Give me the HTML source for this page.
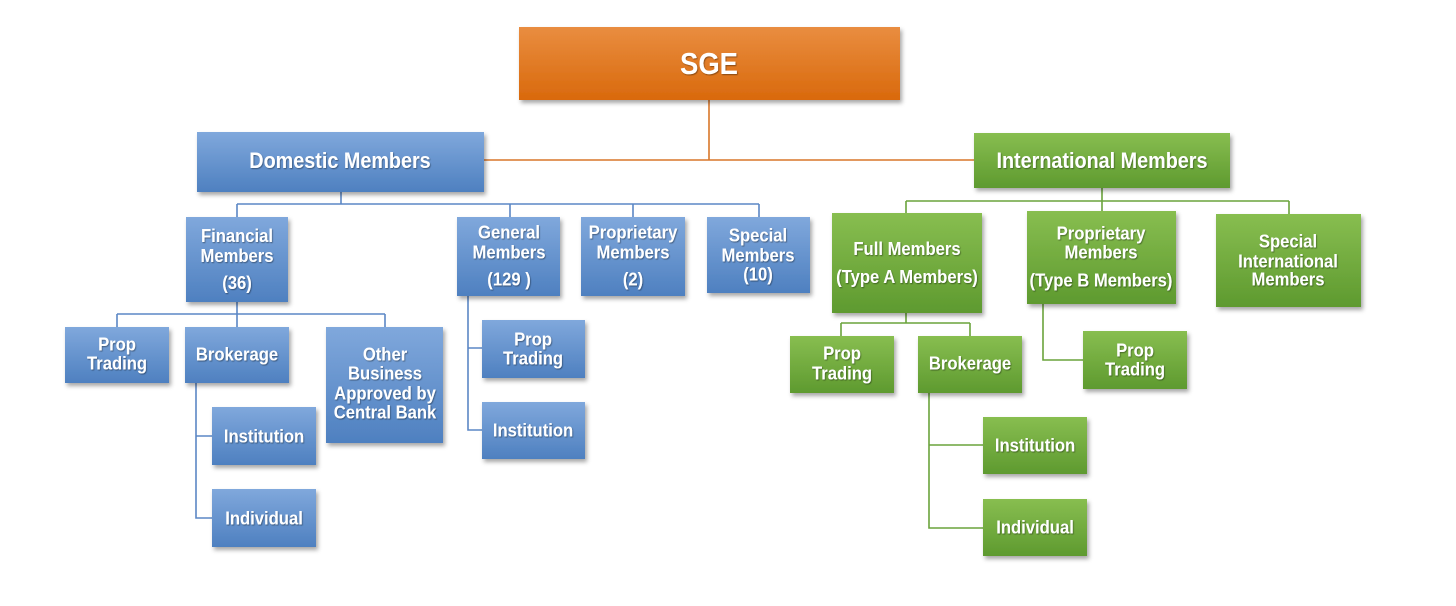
<!DOCTYPE html>
<html><head><meta charset="utf-8"><style>
html,body{margin:0;padding:0;background:#fff;}
svg{display:block;}
text{font-family:"Liberation Sans",Arial,sans-serif;font-weight:bold;fill:#fff;text-anchor:middle;}
</style></head><body>
<svg width="1456" height="606" viewBox="0 0 1456 606" xmlns="http://www.w3.org/2000/svg">
<defs>
<linearGradient id="gO" x1="0" y1="0" x2="0" y2="1"><stop offset="0" stop-color="#e98d40"/><stop offset="1" stop-color="#d9690c"/></linearGradient>
<linearGradient id="gB" x1="0" y1="0" x2="0" y2="1"><stop offset="0" stop-color="#80a8dc"/><stop offset="1" stop-color="#4e80c0"/></linearGradient>
<linearGradient id="gG" x1="0" y1="0" x2="0" y2="1"><stop offset="0" stop-color="#88be50"/><stop offset="1" stop-color="#5e9a2f"/></linearGradient>
<filter id="sh" x="-10%" y="-10%" width="130%" height="140%"><feDropShadow dx="2" dy="3" stdDeviation="2" flood-color="#000" flood-opacity="0.35"/></filter>
<filter id="ts" x="-10%" y="-20%" width="120%" height="150%"><feDropShadow dx="0.8" dy="1" stdDeviation="0.6" flood-color="#000" flood-opacity="0.4"/></filter>
</defs>

<!-- connectors -->
<g fill="none" stroke-width="1.6">
<path stroke="#d9772a" d="M709,100 V160 M484,160 H974"/>
<path stroke="#5b87c5" d="M341,192 V204 M237,204 H759 M237,204 V217 M510,204 V217 M633,204 V217 M759,204 V217
 M237,302 V314 M117,314 H385 M117,314 V327 M237,314 V327 M385,314 V327
 M196,383 V518 H212 M196,436 H212
 M468,296 V430 H482 M468,348 H482"/>
<path stroke="#6aa33c" d="M1102,188 V201 M906,201 H1289 M906,201 V213 M1102,201 V211 M1289,201 V214
 M906,313 V323 M841,323 H970 M841,323 V336 M970,323 V336
 M929,393 V528 H983 M929,445 H983
 M1043,304 V360 H1083"/>
</g>

<!-- boxes -->
<g filter="url(#sh)">
<rect x="519" y="27" width="381" height="73" fill="url(#gO)"/>
<rect x="197" y="132" width="287" height="60" fill="url(#gB)"/>
<rect x="974" y="133" width="256" height="55" fill="url(#gG)"/>

<rect x="186" y="217" width="102" height="85" fill="url(#gB)"/>
<rect x="457" y="217" width="103" height="79" fill="url(#gB)"/>
<rect x="581" y="217" width="104" height="79" fill="url(#gB)"/>
<rect x="707" y="217" width="103" height="76" fill="url(#gB)"/>

<rect x="832" y="213" width="150" height="100" fill="url(#gG)"/>
<rect x="1027" y="211" width="149" height="93" fill="url(#gG)"/>
<rect x="1216" y="214" width="145" height="93" fill="url(#gG)"/>

<rect x="65" y="327" width="104" height="56" fill="url(#gB)"/>
<rect x="185" y="327" width="104" height="56" fill="url(#gB)"/>
<rect x="326" y="327" width="117" height="116" fill="url(#gB)"/>
<rect x="212" y="407" width="104" height="58" fill="url(#gB)"/>
<rect x="212" y="489" width="104" height="58" fill="url(#gB)"/>
<rect x="482" y="320" width="103" height="58" fill="url(#gB)"/>
<rect x="482" y="402" width="103" height="57" fill="url(#gB)"/>

<rect x="790" y="336" width="104" height="57" fill="url(#gG)"/>
<rect x="918" y="336" width="104" height="57" fill="url(#gG)"/>
<rect x="983" y="417" width="104" height="57" fill="url(#gG)"/>
<rect x="983" y="499" width="104" height="57" fill="url(#gG)"/>
<rect x="1083" y="331" width="104" height="58" fill="url(#gG)"/>
</g>

<!-- labels -->
<g filter="url(#ts)">
<g transform="translate(709,0) scale(0.9,1)"><text x="0" y="74" font-size="30.5">SGE</text></g>
<g transform="translate(340,0) scale(0.9,1)"><text x="0" y="168" font-size="22">Domestic Members</text></g>
<g transform="translate(1102,0) scale(0.9,1)"><text x="0" y="168" font-size="22">International Members</text></g>

<g font-size="18.5">
<g transform="translate(237,0) scale(0.9,1)"><text x="0" y="242">Financial</text><text x="0" y="262">Members</text><text x="0" y="289">(36)</text></g>
<g transform="translate(509,0) scale(0.9,1)"><text x="0" y="238.5">General</text><text x="0" y="258.5">Members</text><text x="0" y="285.5">(129 )</text></g>
<g transform="translate(633,0) scale(0.9,1)"><text x="0" y="238.5">Proprietary</text><text x="0" y="258.5">Members</text><text x="0" y="285.5">(2)</text></g>
<g transform="translate(758,0) scale(0.9,1)"><text x="0" y="241.5">Special</text><text x="0" y="261.5">Members</text><text x="0" y="280.5">(10)</text></g>

<g transform="translate(907,0) scale(0.9,1)"><text x="0" y="255">Full Members</text><text x="0" y="283">(Type A Members)</text></g>
<g transform="translate(1101,0) scale(0.9,1)"><text x="0" y="239.5">Proprietary</text><text x="0" y="258.5">Members</text><text x="0" y="286.5">(Type B Members)</text></g>
<g transform="translate(1288,0) scale(0.9,1)"><text x="0" y="247.5">Special</text><text x="0" y="267.5">International</text><text x="0" y="285.5">Members</text></g>

<g transform="translate(117,0) scale(0.9,1)"><text x="0" y="350.5">Prop</text><text x="0" y="369.5">Trading</text></g>
<g transform="translate(237,0) scale(0.9,1)"><text x="0" y="360.5">Brokerage</text></g>
<g transform="translate(385,0) scale(0.9,1)"><text x="0" y="360.5">Other</text><text x="0" y="379.5">Business</text><text x="0" y="399.5">Approved by</text><text x="0" y="418.5">Central Bank</text></g>
<g transform="translate(264,0) scale(0.9,1)"><text x="0" y="442.5">Institution</text><text x="0" y="524.5">Individual</text></g>
<g transform="translate(533,0) scale(0.9,1)"><text x="0" y="345.5">Prop</text><text x="0" y="364.5">Trading</text><text x="0" y="436.5">Institution</text></g>

<g transform="translate(842,0) scale(0.9,1)"><text x="0" y="359.5">Prop</text><text x="0" y="379.5">Trading</text></g>
<g transform="translate(970,0) scale(0.9,1)"><text x="0" y="369.5">Brokerage</text></g>
<g transform="translate(1035,0) scale(0.9,1)"><text x="0" y="451.5">Institution</text><text x="0" y="533.5">Individual</text></g>
<g transform="translate(1135,0) scale(0.9,1)"><text x="0" y="356.5">Prop</text><text x="0" y="375.5">Trading</text></g>
</g>
</g>
</svg>
</body></html>
